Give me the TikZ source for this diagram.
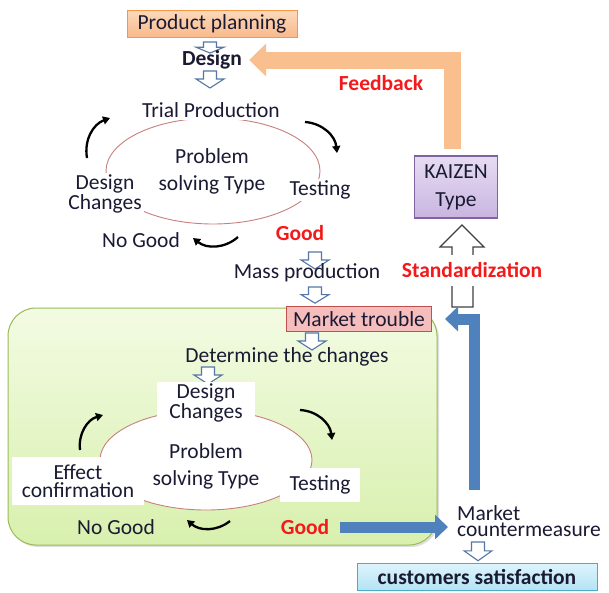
\documentclass[tikz,border=0pt]{standalone}
\usepackage{fontspec}
\setmainfont{Carlito}
\usetikzlibrary{arrows.meta,shadows,calc}
\definecolor{ppfillA}{HTML}{FCD9BC}
\definecolor{ppfillB}{HTML}{F9B98A}
\definecolor{ppdraw}{HTML}{F79646}
\definecolor{orarrow}{HTML}{F9BF8E}
\definecolor{kzA}{HTML}{E6DCF2}
\definecolor{kzB}{HTML}{C9B5E0}
\definecolor{kzdraw}{HTML}{8064A2}
\definecolor{mtfill}{HTML}{F6BDBD}
\definecolor{mtdraw}{HTML}{C0504D}
\definecolor{csA}{HTML}{DDF4FC}
\definecolor{csB}{HTML}{B4E3F3}
\definecolor{csdraw}{HTML}{4BACC6}
\definecolor{grA}{HTML}{F3FBE3}
\definecolor{grB}{HTML}{D8F0AE}
\definecolor{grdraw}{HTML}{9BBB59}
\definecolor{bluearr}{HTML}{4F81BD}
\definecolor{hollowblue}{HTML}{5677A6}
\definecolor{ellred}{HTML}{C8807E}
\definecolor{txtred}{HTML}{F21A1A}
\definecolor{txtdark}{HTML}{1A1A33}
\newcommand\mysz{\fontsize{21.5}{14.5}\selectfont}
\tikzset{
  txt/.style={font=\mysz, inner sep=2pt, align=center, text=txtdark},
  wtxt/.style={txt, fill=white},
  redb/.style={txt, text=txtred, font=\mysz\bfseries},
  ell/.style={draw=ellred, line width=0.9pt, fill=white},
  cyc/.style={line width=2.3pt, -{Triangle[length=7pt,width=8pt]}},
  hollowline/.style={draw=hollowblue, line width=1.1pt, fill=white},
  hollow/.pic={\path[hollowline] (-6.5,0) -- (6.5,0) -- (6.5,8) -- (14,8) -- (0,17) -- (-14,8) -- (-6.5,8) -- cycle;},
  bluearrow/.style={draw=bluearr, line width=11pt, -{Triangle[length=13pt,width=24pt]}},
  orangearrow/.style={draw=orarrow, line width=17pt, -{Triangle[length=17pt,width=32pt]}},
}
\begin{document}
\begin{tikzpicture}[x=1pt,y=-1pt]
\useasboundingbox[fill=white] (0,0) rectangle (609,592);

% green area
\path[draw=grdraw, line width=1pt, top color=grA, bottom color=grB, rounded corners=28pt,
  drop shadow={opacity=0.25, shadow xshift=2pt, shadow yshift=-2pt}] (8,308) rectangle (437,545);

% top part
\node[txt, draw=ppdraw, line width=1pt, top color=ppfillA, bottom color=ppfillB, minimum width=170pt, minimum height=27pt] (pp) at (212,24) {Product planning};
\pic[yscale=0.65] at (210,42) {hollow};
\node[txt, font=\mysz\bfseries] (design) at (212,60) {Design};
\pic at (210,71) {hollow};

\draw[ell] (213,171) ellipse [x radius=107pt, y radius=53pt];
\node[wtxt] (trial) at (211,110) {Trial Production};
\node[txt, font=\fontsize{21.5}{27}\selectfont] (ps1) at (212,171) {Problem\\solving Type};
\node[wtxt] (dc1) at (105,194) {Design\\Changes};
\node[wtxt] (test1) at (320,190) {Testing};
\node[txt] (ng1) at (141,240) {No Good};
\node[redb] (g1) at (300,233) {Good};
\draw[cyc] (87,158) to[bend left=40] (110,118);
\draw[cyc] (305,122) to[bend left=40] (337,153);
\draw[cyc] (238,237) to[bend left=40] (193,238);

\pic at (315,252) {hollow};
\node[txt] (mass) at (307,273) {Mass production};
\pic[yscale=0.95] at (315,287) {hollow};

% market trouble
\node[txt, draw=mtdraw, line width=1pt, fill=mtfill, minimum width=145pt, minimum height=25pt] (mt) at (359,319) {Market trouble};
\pic at (312,333) {hollow};
\node[txt] (det) at (287,357) {Determine the changes};
\pic at (208,367) {hollow};

\draw[ell] (206,460) ellipse [x radius=106pt, y radius=50pt];
\node[wtxt, minimum width=98pt, minimum height=34pt] (dc2) at (206,403) {Design\\Changes};
\node[txt, font=\fontsize{21.5}{27}\selectfont] (ps2) at (206,466) {Problem\\solving Type};
\node[wtxt, font=\fontsize{21.5}{18.5}\selectfont, minimum width=132pt, minimum height=48pt] (ec) at (78,481) {Effect\\confirmation};
\node[wtxt, minimum width=80pt, minimum height=34pt] (test2) at (320,485) {Testing};
\node[txt] (ng2) at (116,527) {No Good};
\node[redb] (g2) at (305,527) {Good};
\draw[cyc] (80,450) to[bend left=40] (103,415);
\draw[cyc] (300,410) to[bend left=40] (332,440);
\draw[cyc] (230,521) to[bend left=40] (187,520);

% right side
\node[txt, font=\fontsize{21.5}{16.5}\selectfont, align=left, anchor=west] (mcm) at (455,521) {Market\\countermeasure};
\pic[yscale=1.1] at (478,542) {hollow};
\node[txt, font=\mysz\bfseries, draw=csdraw, line width=1pt, top color=csA, bottom color=csB, minimum width=240pt, minimum height=27pt] (cs) at (477,577) {customers satisfaction};

\node[txt, draw=kzdraw, line width=1.2pt, top color=kzA, bottom color=kzB, minimum width=83pt, minimum height=62pt, font=\fontsize{21.5}{28}\selectfont] (kz) at (456,187) {KAIZEN\\Type};
\path[draw=black!75, line width=1.1pt, fill=white] (440,247) -- (462,225) -- (484,247) -- (473,247) -- (473,307) -- (452,307) -- (452,247) -- cycle;
\node[redb, fill=white, minimum height=31pt] (std) at (472,270) {Standardization};
\node[redb] (fb) at (381,83) {Feedback};

\draw[orangearrow, shorten <=6pt, shorten >=5pt] ([xshift=-4pt]kz.north) |- (design.east);
\coordinate (bs) at (474,490);
\draw[bluearrow, shorten >=13pt] (bs) |- (mt.east);
\draw[bluearrow, shorten <=9pt, shorten >=7pt] (g2.east) -- (g2.east -| mcm.west);
\end{tikzpicture}
\end{document}
